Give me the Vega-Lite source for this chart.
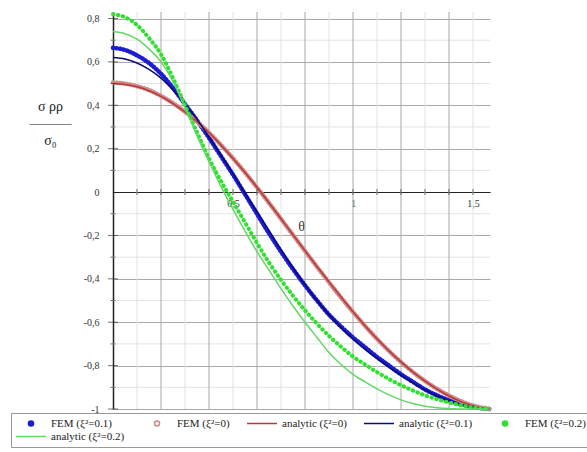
{
  "$schema": "https://vega.github.io/schema/vega-lite/v6.json",
  "width": 377,
  "height": 397,
  "autosize": "none",
  "padding": {"left": 113, "top": 12, "right": 97, "bottom": 43},
  "background": "white",
  "config": {
    "view": {"stroke": null},
    "font": "Liberation Serif",
    "locale": {"number": {"decimal": ",", "thousands": " ", "grouping": [3], "currency": ["", ""], "minus": "-"}}
  },
  "datasets": {
    "xmaj": [{"t": 0.2}, {"t": 0.4}, {"t": 0.6}, {"t": 0.8}, {"t": 1.0}, {"t": 1.2}, {"t": 1.4}],
    "xmin": [{"t": 0.1}, {"t": 0.3}, {"t": 0.5}, {"t": 0.7}, {"t": 0.9}, {"t": 1.1}, {"t": 1.3}, {"t": 1.5}],
    "ymin": [{"v": -0.9}, {"v": -0.7}, {"v": -0.5}, {"v": -0.3}, {"v": -0.1}, {"v": 0.1}, {"v": 0.3}, {"v": 0.5}, {"v": 0.7}],
    "xticks": [{"t": 0.1}, {"t": 0.2}, {"t": 0.3}, {"t": 0.4}, {"t": 0.5}, {"t": 0.6}, {"t": 0.7}, {"t": 0.8}, {"t": 0.9}, {"t": 1.0}, {"t": 1.1}, {"t": 1.2}, {"t": 1.3}, {"t": 1.4}, {"t": 1.5}],
    "ytmaj": [{"v": -1}, {"v": -0.8}, {"v": -0.6}, {"v": -0.4}, {"v": -0.2}, {"v": 0.2}, {"v": 0.4}, {"v": 0.6}, {"v": 0.8}],
    "curves": [
      {"t": 0, "v": 0.665, "s": "f1"}, {"t": 0.05, "v": 0.655, "s": "f1"}, {"t": 0.1, "v": 0.63, "s": "f1"}, {"t": 0.15, "v": 0.595, "s": "f1"}, {"t": 0.2, "v": 0.545, "s": "f1"}, {"t": 0.25, "v": 0.48, "s": "f1"}, {"t": 0.3, "v": 0.405, "s": "f1"}, {"t": 0.35, "v": 0.33, "s": "f1"}, {"t": 0.4, "v": 0.25, "s": "f1"}, {"t": 0.45, "v": 0.165, "s": "f1"}, {"t": 0.5, "v": 0.08, "s": "f1"}, {"t": 0.55, "v": -0.01, "s": "f1"}, {"t": 0.6, "v": -0.1, "s": "f1"}, {"t": 0.65, "v": -0.19, "s": "f1"}, {"t": 0.7, "v": -0.275, "s": "f1"}, {"t": 0.75, "v": -0.355, "s": "f1"}, {"t": 0.8, "v": -0.43, "s": "f1"}, {"t": 0.85, "v": -0.5, "s": "f1"}, {"t": 0.9, "v": -0.565, "s": "f1"}, {"t": 0.95, "v": -0.62, "s": "f1"}, {"t": 1.0, "v": -0.67, "s": "f1"}, {"t": 1.05, "v": -0.715, "s": "f1"}, {"t": 1.1, "v": -0.76, "s": "f1"}, {"t": 1.15, "v": -0.8, "s": "f1"}, {"t": 1.2, "v": -0.84, "s": "f1"}, {"t": 1.25, "v": -0.875, "s": "f1"}, {"t": 1.3, "v": -0.91, "s": "f1"}, {"t": 1.35, "v": -0.937, "s": "f1"}, {"t": 1.4, "v": -0.96, "s": "f1"}, {"t": 1.45, "v": -0.978, "s": "f1"}, {"t": 1.5, "v": -0.99, "s": "f1"}, {"t": 1.55, "v": -0.998, "s": "f1"}, {"t": 1.5708, "v": -1, "s": "f1"},
      {"t": 0, "v": 0.505, "s": "f0"}, {"t": 0.05, "v": 0.5, "s": "f0"}, {"t": 0.1, "v": 0.488, "s": "f0"}, {"t": 0.15, "v": 0.47, "s": "f0"}, {"t": 0.2, "v": 0.443, "s": "f0"}, {"t": 0.25, "v": 0.41, "s": "f0"}, {"t": 0.3, "v": 0.37, "s": "f0"}, {"t": 0.35, "v": 0.325, "s": "f0"}, {"t": 0.4, "v": 0.274, "s": "f0"}, {"t": 0.45, "v": 0.217, "s": "f0"}, {"t": 0.5, "v": 0.156, "s": "f0"}, {"t": 0.55, "v": 0.09, "s": "f0"}, {"t": 0.6, "v": 0.021, "s": "f0"}, {"t": 0.65, "v": -0.05, "s": "f0"}, {"t": 0.7, "v": -0.124, "s": "f0"}, {"t": 0.75, "v": -0.198, "s": "f0"}, {"t": 0.8, "v": -0.272, "s": "f0"}, {"t": 0.85, "v": -0.345, "s": "f0"}, {"t": 0.9, "v": -0.416, "s": "f0"}, {"t": 0.95, "v": -0.486, "s": "f0"}, {"t": 1.0, "v": -0.553, "s": "f0"}, {"t": 1.05, "v": -0.617, "s": "f0"}, {"t": 1.1, "v": -0.677, "s": "f0"}, {"t": 1.15, "v": -0.733, "s": "f0"}, {"t": 1.2, "v": -0.784, "s": "f0"}, {"t": 1.25, "v": -0.83, "s": "f0"}, {"t": 1.3, "v": -0.871, "s": "f0"}, {"t": 1.35, "v": -0.907, "s": "f0"}, {"t": 1.4, "v": -0.938, "s": "f0"}, {"t": 1.45, "v": -0.964, "s": "f0"}, {"t": 1.5, "v": -0.984, "s": "f0"}, {"t": 1.55, "v": -0.996, "s": "f0"}, {"t": 1.5708, "v": -1, "s": "f0"},
      {"t": 0, "v": 0.5, "s": "a0"}, {"t": 0.05, "v": 0.496, "s": "a0"}, {"t": 0.1, "v": 0.485, "s": "a0"}, {"t": 0.15, "v": 0.467, "s": "a0"}, {"t": 0.2, "v": 0.441, "s": "a0"}, {"t": 0.25, "v": 0.408, "s": "a0"}, {"t": 0.3, "v": 0.369, "s": "a0"}, {"t": 0.35, "v": 0.324, "s": "a0"}, {"t": 0.4, "v": 0.273, "s": "a0"}, {"t": 0.45, "v": 0.216, "s": "a0"}, {"t": 0.5, "v": 0.155, "s": "a0"}, {"t": 0.55, "v": 0.09, "s": "a0"}, {"t": 0.6, "v": 0.022, "s": "a0"}, {"t": 0.65, "v": -0.049, "s": "a0"}, {"t": 0.7, "v": -0.123, "s": "a0"}, {"t": 0.75, "v": -0.197, "s": "a0"}, {"t": 0.8, "v": -0.27, "s": "a0"}, {"t": 0.85, "v": -0.343, "s": "a0"}, {"t": 0.9, "v": -0.414, "s": "a0"}, {"t": 0.95, "v": -0.484, "s": "a0"}, {"t": 1.0, "v": -0.552, "s": "a0"}, {"t": 1.05, "v": -0.616, "s": "a0"}, {"t": 1.1, "v": -0.676, "s": "a0"}, {"t": 1.15, "v": -0.732, "s": "a0"}, {"t": 1.2, "v": -0.783, "s": "a0"}, {"t": 1.25, "v": -0.83, "s": "a0"}, {"t": 1.3, "v": -0.871, "s": "a0"}, {"t": 1.35, "v": -0.908, "s": "a0"}, {"t": 1.4, "v": -0.94, "s": "a0"}, {"t": 1.45, "v": -0.966, "s": "a0"}, {"t": 1.5, "v": -0.985, "s": "a0"}, {"t": 1.55, "v": -0.997, "s": "a0"}, {"t": 1.5708, "v": -1, "s": "a0"},
      {"t": 0, "v": 0.62, "s": "a1"}, {"t": 0.05, "v": 0.613, "s": "a1"}, {"t": 0.1, "v": 0.595, "s": "a1"}, {"t": 0.15, "v": 0.565, "s": "a1"}, {"t": 0.2, "v": 0.525, "s": "a1"}, {"t": 0.25, "v": 0.47, "s": "a1"}, {"t": 0.3, "v": 0.405, "s": "a1"}, {"t": 0.35, "v": 0.335, "s": "a1"}, {"t": 0.4, "v": 0.255, "s": "a1"}, {"t": 0.45, "v": 0.17, "s": "a1"}, {"t": 0.5, "v": 0.085, "s": "a1"}, {"t": 0.55, "v": -0.005, "s": "a1"}, {"t": 0.6, "v": -0.09, "s": "a1"}, {"t": 0.65, "v": -0.178, "s": "a1"}, {"t": 0.7, "v": -0.265, "s": "a1"}, {"t": 0.75, "v": -0.35, "s": "a1"}, {"t": 0.8, "v": -0.428, "s": "a1"}, {"t": 0.85, "v": -0.5, "s": "a1"}, {"t": 0.9, "v": -0.566, "s": "a1"}, {"t": 0.95, "v": -0.625, "s": "a1"}, {"t": 1.0, "v": -0.678, "s": "a1"}, {"t": 1.05, "v": -0.725, "s": "a1"}, {"t": 1.1, "v": -0.768, "s": "a1"}, {"t": 1.15, "v": -0.808, "s": "a1"}, {"t": 1.2, "v": -0.845, "s": "a1"}, {"t": 1.25, "v": -0.88, "s": "a1"}, {"t": 1.3, "v": -0.912, "s": "a1"}, {"t": 1.35, "v": -0.94, "s": "a1"}, {"t": 1.4, "v": -0.962, "s": "a1"}, {"t": 1.45, "v": -0.979, "s": "a1"}, {"t": 1.5, "v": -0.991, "s": "a1"}, {"t": 1.55, "v": -0.999, "s": "a1"}, {"t": 1.5708, "v": -1, "s": "a1"},
      {"t": 0, "v": 0.82, "s": "f2"}, {"t": 0.05, "v": 0.806, "s": "f2"}, {"t": 0.1, "v": 0.77, "s": "f2"}, {"t": 0.15, "v": 0.71, "s": "f2"}, {"t": 0.2, "v": 0.635, "s": "f2"}, {"t": 0.25, "v": 0.525, "s": "f2"}, {"t": 0.3, "v": 0.4, "s": "f2"}, {"t": 0.35, "v": 0.275, "s": "f2"}, {"t": 0.4, "v": 0.155, "s": "f2"}, {"t": 0.45, "v": 0.05, "s": "f2"}, {"t": 0.5, "v": -0.045, "s": "f2"}, {"t": 0.55, "v": -0.14, "s": "f2"}, {"t": 0.6, "v": -0.235, "s": "f2"}, {"t": 0.65, "v": -0.325, "s": "f2"}, {"t": 0.7, "v": -0.405, "s": "f2"}, {"t": 0.75, "v": -0.478, "s": "f2"}, {"t": 0.8, "v": -0.545, "s": "f2"}, {"t": 0.85, "v": -0.607, "s": "f2"}, {"t": 0.9, "v": -0.663, "s": "f2"}, {"t": 0.95, "v": -0.713, "s": "f2"}, {"t": 1.0, "v": -0.758, "s": "f2"}, {"t": 1.05, "v": -0.795, "s": "f2"}, {"t": 1.1, "v": -0.83, "s": "f2"}, {"t": 1.15, "v": -0.862, "s": "f2"}, {"t": 1.2, "v": -0.89, "s": "f2"}, {"t": 1.25, "v": -0.915, "s": "f2"}, {"t": 1.3, "v": -0.937, "s": "f2"}, {"t": 1.35, "v": -0.955, "s": "f2"}, {"t": 1.4, "v": -0.97, "s": "f2"}, {"t": 1.45, "v": -0.983, "s": "f2"}, {"t": 1.5, "v": -0.993, "s": "f2"}, {"t": 1.55, "v": -0.999, "s": "f2"}, {"t": 1.5708, "v": -1, "s": "f2"},
      {"t": 0, "v": 0.74, "s": "a2"}, {"t": 0.05, "v": 0.73, "s": "a2"}, {"t": 0.1, "v": 0.705, "s": "a2"}, {"t": 0.15, "v": 0.66, "s": "a2"}, {"t": 0.2, "v": 0.6, "s": "a2"}, {"t": 0.25, "v": 0.51, "s": "a2"}, {"t": 0.3, "v": 0.39, "s": "a2"}, {"t": 0.35, "v": 0.26, "s": "a2"}, {"t": 0.4, "v": 0.14, "s": "a2"}, {"t": 0.45, "v": 0.025, "s": "a2"}, {"t": 0.5, "v": -0.08, "s": "a2"}, {"t": 0.55, "v": -0.18, "s": "a2"}, {"t": 0.6, "v": -0.275, "s": "a2"}, {"t": 0.65, "v": -0.36, "s": "a2"}, {"t": 0.7, "v": -0.445, "s": "a2"}, {"t": 0.75, "v": -0.525, "s": "a2"}, {"t": 0.8, "v": -0.6, "s": "a2"}, {"t": 0.85, "v": -0.67, "s": "a2"}, {"t": 0.9, "v": -0.74, "s": "a2"}, {"t": 0.95, "v": -0.795, "s": "a2"}, {"t": 1.0, "v": -0.84, "s": "a2"}, {"t": 1.05, "v": -0.875, "s": "a2"}, {"t": 1.1, "v": -0.907, "s": "a2"}, {"t": 1.15, "v": -0.935, "s": "a2"}, {"t": 1.2, "v": -0.958, "s": "a2"}, {"t": 1.25, "v": -0.975, "s": "a2"}, {"t": 1.3, "v": -0.987, "s": "a2"}, {"t": 1.35, "v": -0.994, "s": "a2"}, {"t": 1.4, "v": -0.998, "s": "a2"}, {"t": 1.45, "v": -1, "s": "a2"}, {"t": 1.5, "v": -1, "s": "a2"}, {"t": 1.55, "v": -1, "s": "a2"}, {"t": 1.5708, "v": -1, "s": "a2"}
    ]
  },
  "layer": [
    {
      "data": {"name": "xmin"},
      "mark": {"type": "rule", "color": "#e3e3e3", "strokeWidth": 1},
      "encoding": {"x": {"field": "t", "type": "quantitative", "scale": {"domain": [0, 1.5708], "nice": false, "zero": false}}}
    },
    {
      "data": {"name": "ymin"},
      "mark": {"type": "rule", "color": "#e3e3e3", "strokeWidth": 1},
      "encoding": {"y": {"field": "v", "type": "quantitative", "scale": {"domain": [-1, 0.83], "nice": false, "zero": false}}}
    },
    {
      "data": {"name": "xmaj"},
      "mark": {"type": "rule", "color": "#a8a8a8", "strokeWidth": 1},
      "encoding": {"x": {"field": "t", "type": "quantitative"}}
    },
    {
      "data": {"name": "curves"},
      "encoding": {
        "x": {
          "field": "t", "type": "quantitative",
          "scale": {"domain": [0, 1.5708], "nice": false, "zero": false},
          "axis": {
            "orient": "bottom", "offset": -217, "values": [0.5, 1, 1.5], "format": "~g",
            "ticks": false, "grid": false, "domainColor": "#222", "domainWidth": 1.2,
            "labelPadding": 6, "labelFont": "Liberation Serif", "labelFontSize": 10, "labelColor": "#333",
            "title": "θ", "titleFont": "Liberation Serif", "titleFontSize": 14, "titleFontWeight": "normal",
            "titleX": 188, "titleY": 34, "titleAlign": "center", "titleBaseline": "middle", "titleColor": "#333"
          }
        },
        "y": {
          "field": "v", "type": "quantitative",
          "scale": {"domain": [-1, 0.83], "nice": false, "zero": false},
          "axis": {
            "values": [-1, -0.8, -0.6, -0.4, -0.2, 0, 0.2, 0.4, 0.6, 0.8], "format": "~g",
            "ticks": false, "grid": true, "gridColor": "#a8a8a8", "gridWidth": 1,
            "domainColor": "#222", "domainWidth": 1.5,
            "labelPadding": 14, "labelFont": "Liberation Serif", "labelFontSize": 10, "labelColor": "#333",
            "title": ["σ  ρρ", "———", "σ₀"], "titleAngle": 0, "titleX": -63, "titleY": 94,
            "titleAlign": "center", "titleBaseline": "middle", "titleFont": "Liberation Serif",
            "titleFontSize": 14, "titleLineHeight": 17, "titleFontWeight": "normal", "titleColor": "#222"
          }
        },
        "color": {
          "field": "s", "type": "nominal",
          "scale": {
            "domain": ["f1", "f0", "a0", "a1", "f2", "a2"],
            "range": ["#1c1cd0", "#d08a8a", "#b53a3a", "#0a0a78", "#2fe02f", "#62d862"]
          },
          "legend": {
            "orient": "none", "legendX": -102, "legendY": 401, "direction": "horizontal",
            "title": null, "columns": 5, "columnPadding": 16, "rowPadding": 0, "clipHeight": 13,
            "symbolSize": 900, "symbolStrokeWidth": 1.5,
            "labelFont": "Liberation Serif", "labelFontSize": 11, "labelColor": "#222", "labelOffset": 4, "labelLimit": 200,
            "padding": 4, "strokeColor": "#999", "fillColor": "white",
            "labelExpr": "datum.value === 'f1' ? 'FEM (ξ²=0.1)' : datum.value === 'f0' ? 'FEM (ξ²=0)' : datum.value === 'a0' ? 'analytic (ξ²=0)' : datum.value === 'a1' ? 'analytic (ξ²=0.1)' : datum.value === 'f2' ? 'FEM (ξ²=0.2)' : 'analytic (ξ²=0.2)'",
            "encode": {
              "symbols": {
                "update": {
                  "shape": {"signal": "indexof(datum.value, 'f') === 0 ? 'M-0.17,0A0.17,0.17,0,1,0,0.17,0A0.17,0.17,0,1,0,-0.17,0Z' : 'M-1,0L1,0'"},
                  "fill": {"signal": "datum.value === 'f0' ? '#f2f2f2' : indexof(datum.value, 'f') === 0 ? scale('color', datum.value) : 'transparent'"},
                  "stroke": {"signal": "datum.value === 'f0' ? '#aaaaaa' : indexof(datum.value, 'f') === 0 ? 'transparent' : scale('color', datum.value)"},
                  "strokeDash": {"value": []},
                  "opacity": {"value": 1}
                }
              }
            }
          }
        }
      },
      "layer": [
        {
          "transform": [{"filter": "datum.s === 'f0' || datum.s === 'f1'"}],
          "mark": {"type": "line", "strokeWidth": 4.5, "strokeDash": [0.5, 3], "strokeCap": "round", "interpolate": "monotone"}
        },
        {
          "transform": [{"filter": "datum.s === 'a0' || datum.s === 'a1'"}],
          "mark": {"type": "line", "strokeWidth": 1.5, "interpolate": "monotone"}
        },
        {
          "transform": [{"filter": "datum.s === 'f2'"}],
          "mark": {"type": "line", "strokeWidth": 4, "strokeDash": [0.5, 4.5], "strokeCap": "round", "interpolate": "monotone"}
        },
        {
          "transform": [{"filter": "datum.s === 'a2'"}],
          "mark": {"type": "line", "strokeWidth": 1.5, "interpolate": "monotone"}
        }
      ]
    },
    {
      "data": {"name": "xticks"},
      "mark": {"type": "tick", "orient": "vertical", "size": 6, "thickness": 1, "color": "#333"},
      "encoding": {
        "x": {"field": "t", "type": "quantitative"},
        "y": {"datum": 0, "type": "quantitative"}
      }
    },
    {
      "data": {"name": "ytmaj"},
      "mark": {"type": "tick", "orient": "horizontal", "size": 10, "thickness": 1, "color": "#333"},
      "encoding": {
        "y": {"field": "v", "type": "quantitative"},
        "x": {"datum": 0, "type": "quantitative"}
      }
    },
    {
      "data": {"name": "ymin"},
      "mark": {"type": "tick", "orient": "horizontal", "size": 5, "thickness": 1, "color": "#333"},
      "encoding": {
        "y": {"field": "v", "type": "quantitative"},
        "x": {"datum": 0, "type": "quantitative"}
      }
    }
  ]
}
